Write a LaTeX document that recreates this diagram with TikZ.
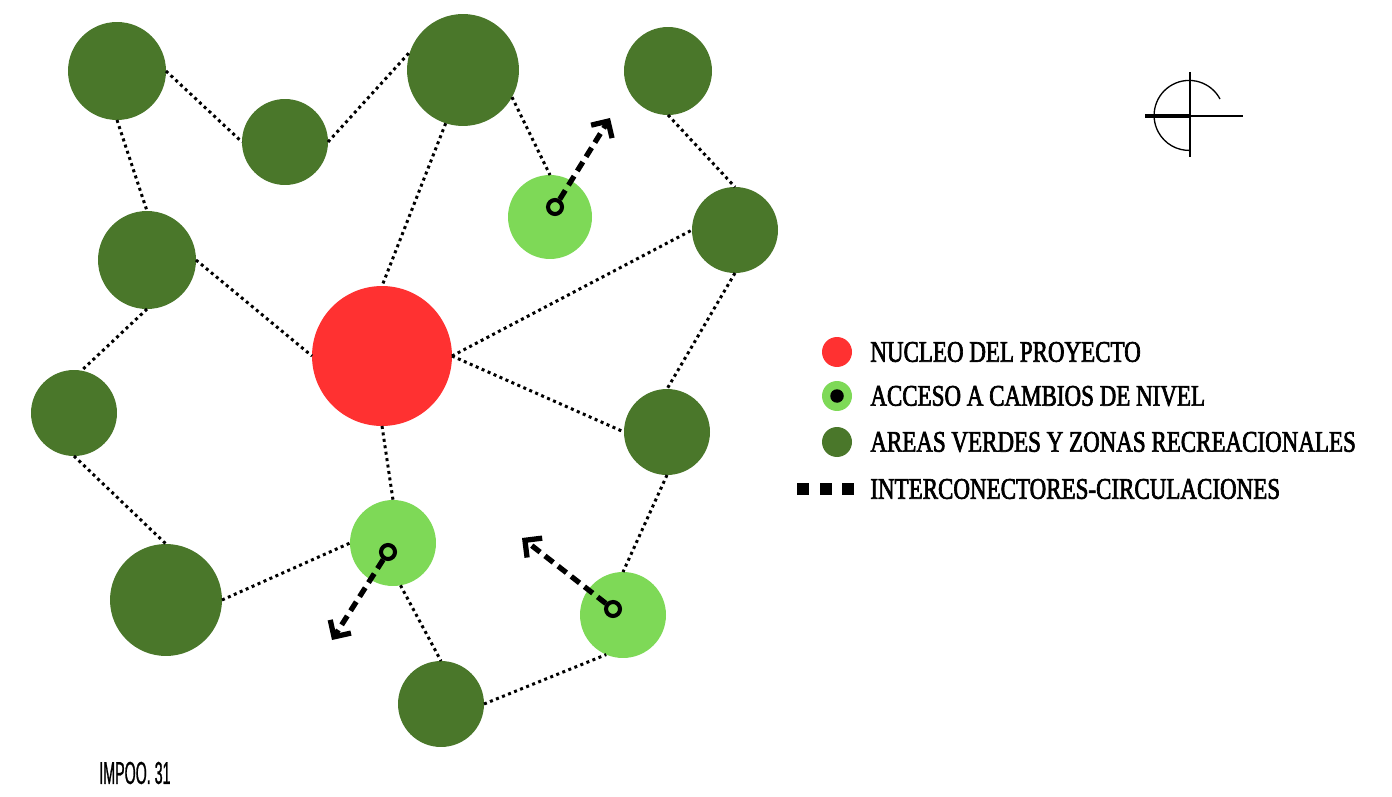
\documentclass[tikz,border=0pt]{standalone}
\usepackage{fontspec}
\setmainfont{Liberation Serif}
\newfontfamily\leyendafont[FakeStretch=0.77,FakeBold=2.2]{Liberation Serif}
\newfontfamily\rotulofont[FakeStretch=0.45,FakeBold=0.8]{Liberation Sans}
\usetikzlibrary{arrows.meta}
\definecolor{verdeosc}{RGB}{74,119,42}
\definecolor{verdecla}{RGB}{126,217,87}
\definecolor{rojonuc}{RGB}{255,49,49}

\begin{document}
\begin{tikzpicture}[
  x=0.02cm, y=-0.02cm,
  zona/.style={circle, fill=verdeosc, inner sep=0pt, outer sep=0pt, minimum size=#1},
  acceso/.style={circle, fill=verdecla, inner sep=0pt, outer sep=0pt, minimum size=#1},
  nucleo/.style={circle, fill=rojonuc, inner sep=0pt, outer sep=0pt, minimum size=#1},
  anillo/.style={circle, draw=black, line width=2.3pt, fill=verdecla, inner sep=0pt, minimum size=0.28cm},
  enlace/.style={draw=black, line width=1.7pt, dash pattern=on 1.7pt off 2pt},
  salida/.style={draw=black, line width=3pt, dash pattern=on 6pt off 3.5pt,
    -{Straight Barb[length=7pt, width=14pt]}},
  leyenda/.style={anchor=west, inner sep=0pt, font=\leyendafont\fontsize{17}{20}\selectfont},
  trazo/.style={draw=black, line width=0.75pt}
]
\useasboundingbox (0,0) rectangle (1392,797);

%--------------------------------------------------------------
% Areas verdes, accesos y nucleo
%--------------------------------------------------------------
\node[zona=1.96cm] (a1) at (117,71) {};
\node[zona=1.72cm] (a2) at (285,142) {};
\node[zona=2.24cm] (a3) at (463,70) {};
\node[zona=1.76cm] (a4) at (668,71) {};
\node[zona=1.96cm] (a5) at (147,260) {};
\node[zona=1.72cm] (a6) at (735,230) {};
\node[zona=1.72cm] (a7) at (74,413) {};
\node[zona=1.72cm] (a8) at (667,432) {};
\node[zona=2.24cm] (a9) at (166,600) {};
\node[zona=1.72cm] (a10) at (441,704) {};

\node[acceso=1.68cm] (l1) at (550,217) {};
\node[acceso=1.72cm] (l2) at (393,543) {};
\node[acceso=1.72cm] (l3) at (623,615) {};

\node[nucleo=2.80cm] (n) at (382,356) {};

%--------------------------------------------------------------
% Enlaces punteados
%--------------------------------------------------------------
\draw[enlace] (a1.east) -- (a2.west);
\draw[enlace] (a2.east) -- (a3.161);
\draw[enlace] (a1.south) -- (a5.north);
\draw[enlace] (a3.252) -- (n.north);
\draw[enlace] (a3.-29) -- (l1.north);
\draw[enlace] (a4.south) -- (a6.north);
\draw[enlace] (a5.east) -- (n.west);
\draw[enlace] (n.east) -- (a6.west);
\draw[enlace] (a5.south) -- (a7.80);
\draw[enlace] (n.east) -- (a8.west);
\draw[enlace] (a6.south) -- (a8.north);
\draw[enlace] (n.south) -- (l2.north);
\draw[enlace] (a7.south) -- (a9.north);
\draw[enlace] (a9.east) -- (l2.west);
\draw[enlace] (l2.-80) -- (a10.north);
\draw[enlace] (a8.south) -- (l3.north);
\draw[enlace] (a10.east) -- (l3.247);

%--------------------------------------------------------------
% Cambios de nivel (flechas discontinuas)
%--------------------------------------------------------------
\node[anillo] (r1) at (555,207) {};
\node[anillo] (r2) at (388,552) {};
\node[anillo] (r3) at (613,609) {};
\coordinate (s1) at (610,118);
\coordinate (s2) at (332,640);
\coordinate (s3) at (522,538);
\draw[salida] (r1) -- (s1);
\draw[salida] (r2) -- (s2);
\draw[salida] (r3) -- (s3);

%--------------------------------------------------------------
% Norte
%--------------------------------------------------------------
\draw[trazo] (1190,72) -- (1190,157);
\draw[trazo] (1145,116) -- (1243,116);
\draw[draw=black, line width=2pt] (1145,116) -- (1190,116);
\draw[trazo] (1220,99) arc[start angle=-28, end angle=-272, radius=35];

%--------------------------------------------------------------
% Leyenda
%--------------------------------------------------------------
\node[nucleo=0.6cm] (ln) at (837,352) {};
\node[acceso=0.6cm] (la) at (837,396) {};
\node[circle, fill=black, inner sep=0pt, minimum size=0.27cm] (lp) at (837,396) {};
\node[zona=0.6cm] (lz) at (837,442) {};
\foreach \x/\nm in {803/c1, 826/c2, 848/c3}{
  \node[fill=black, inner sep=0pt, minimum size=0.24cm] (\nm) at (\x,489) {};
}
\node[leyenda] (tn) at (870,352) {NUCLEO DEL PROYECTO};
\node[leyenda] (ta) at (870,396) {ACCESO A CAMBIOS DE NIVEL};
\node[leyenda] (tz) at (870,442) {AREAS VERDES Y ZONAS RECREACIONALES};
\node[leyenda] (tc) at (870,489) {INTERCONECTORES-CIRCULACIONES};

\node[anchor=west, inner sep=0pt, font=\rotulofont\fontsize{18}{20}\selectfont] (rot) at (99,773) {IMPOO. 31};

\end{tikzpicture}
\end{document}
